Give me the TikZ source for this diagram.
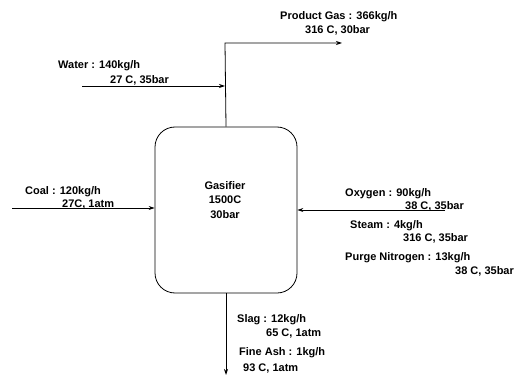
\documentclass[tikz,border=0pt]{standalone}
\usepackage{fontspec}
\setmainfont{Liberation Sans}
\usetikzlibrary{arrows.meta, positioning}

\begin{document}
\begin{tikzpicture}[
    x=1pt, y=-1pt,
    vessel/.style={
        rectangle,
        rounded corners=20pt,
        draw=black,
        line width=0.8pt,
        minimum width=142pt,
        minimum height=166pt,
        inner sep=0pt
    },
    stream/.style={
        line width=0.8pt,
        -{Stealth[length=6pt, width=4pt]}
    },
    flowtext/.style={
        anchor=base west,
        inner sep=0pt,
        font=\fontsize{11}{13}\selectfont\bfseries
    }
]
\useasboundingbox (0,0) rectangle (516,377);

% Gasifier vessel
\node[vessel] (gasifier) at (226,210) {};
\node[font=\fontsize{11}{14.5}\selectfont\bfseries, align=center] (gaslabel) at (225,200) {Gasifier\\1500C\\30bar};

% Free ends of the streams
\coordinate (gasbend) at (225,43);
\coordinate (gasout) at (342,43);
\coordinate (waterin) at (82,86);
\coordinate (coalin) at (12,208);
\coordinate (oxyin) at (445,210);
\coordinate (ashout) at (226,375);

% Streams
\draw[stream] (gasifier.north) -- (gasbend) -- (gasout);
\draw[stream] (waterin) -- (waterin -| gasbend);
\draw[stream] (coalin) -- (coalin -| gasifier.west);
\draw[stream] (oxyin) -- (oxyin -| gasifier.east);
\draw[stream] (gasifier.south) -- (ashout);

% Stream labels
\node[flowtext] (prod1) at (280,20) {Product Gas : 366kg/h};
\node[flowtext] (prod2) at (305,34) {316 C, 30bar};
\node[flowtext] (water1) at (58,69) {Water : 140kg/h};
\node[flowtext] (water2) at (110,84) {27 C, 35bar};
\node[flowtext] (coal1) at (25,194) {Coal : 120kg/h};
\node[flowtext] (coal2) at (62,207) {27C, 1atm};
\node[flowtext] (oxy1) at (345,196) {Oxygen : 90kg/h};
\node[flowtext] (oxy2) at (405,209) {38 C, 35bar};
\node[flowtext] (steam1) at (350,228) {Steam : 4kg/h};
\node[flowtext] (steam2) at (403,241) {316 C, 35bar};
\node[flowtext] (purge1) at (345,260) {Purge Nitrogen : 13kg/h};
\node[flowtext] (purge2) at (455,274) {38 C, 35bar};
\node[flowtext] (slag1) at (237,322) {Slag : 12kg/h};
\node[flowtext] (slag2) at (266,336) {65 C, 1atm};
\node[flowtext] (ash1) at (239,355) {Fine Ash : 1kg/h};
\node[flowtext] (ash2) at (243,371) {93 C, 1atm};

\end{tikzpicture}
\end{document}
